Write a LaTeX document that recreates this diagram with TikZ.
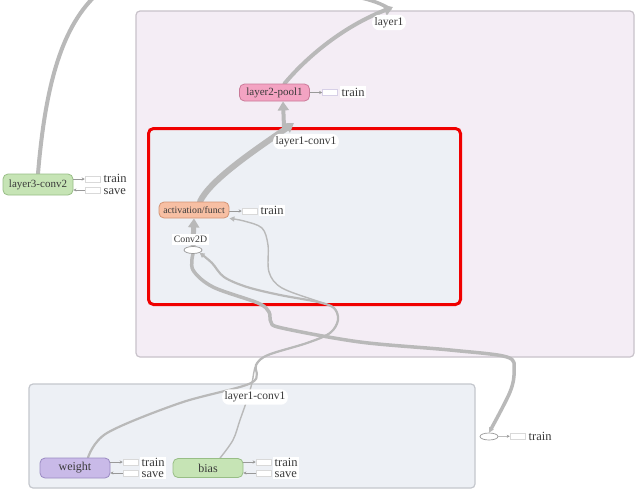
\documentclass[tikz,border=0pt]{standalone}
\usepackage{fontspec}
\setmainfont{Liberation Serif}
\usetikzlibrary{arrows.meta,shapes.geometric}
\definecolor{outerfill}{HTML}{F4EDF5}
\definecolor{outerline}{HTML}{C8C2CA}
\definecolor{innerfill}{HTML}{EDF0F5}
\definecolor{innerline}{HTML}{C4C7CD}
\definecolor{redline}{HTML}{F00000}
\definecolor{greenfill}{HTML}{C6E4B5}
\definecolor{greenline}{HTML}{98BE86}
\definecolor{pinkfill}{HTML}{F3A3C2}
\definecolor{pinkline}{HTML}{C97A98}
\definecolor{salmonfill}{HTML}{F7BFA3}
\definecolor{salmonline}{HTML}{D39475}
\definecolor{purplefill}{HTML}{C9BAE8}
\definecolor{purpleline}{HTML}{9A8AC2}
\definecolor{edgegray}{HTML}{B9B9B9}
\definecolor{txt}{HTML}{3A3A3A}
\pgfdeclarelayer{boxes}
\pgfdeclarelayer{edges}
\pgfsetlayers{boxes,edges,main}
\tikzset{
  grp/.style={rounded corners=4pt, inner sep=0pt},
  opnode/.style={draw, rounded corners=5pt, minimum width=70pt, inner sep=0pt, text=txt, line width=0.8pt},
  outrect/.style={draw=black!15, fill=white, minimum width=15pt, minimum height=6pt, inner sep=0pt, line width=0.5pt},
  lbl/.style={fill=white, inner sep=1.5pt, anchor=west, text=txt, font=\fontsize{12.5}{13}\selectfont},
  lbltwo/.style={fill=white, inner xsep=1.5pt, inner ysep=1pt, anchor=west, align=left, text=txt, font=\fontsize{12.5}{11.5}\selectfont},
  title/.style={fill=white, rounded corners=7pt, inner sep=2.5pt, text=txt, font=\fontsize{11.5}{13}\selectfont},
  smallarr/.style={draw=black!40, line width=0.5pt, -{Stealth[length=3pt,width=3pt]}},
  edgeline/.style={draw=edgegray, line cap=round, line join=round},
  bigtip/.style={-{Triangle[length=9pt,width=11pt]}},
  midtip/.style={-{Triangle[length=5pt,width=5pt]}},
}
\begin{document}
\begin{tikzpicture}[x=1pt,y=-1pt]
\useasboundingbox (0,0) rectangle (637,491);

% group boxes
\begin{pgfonlayer}{boxes}
\fill[white] (0,0) rectangle (637,491);
\node[grp, draw=outerline, fill=outerfill, line width=1.2pt, minimum width=498pt, minimum height=346pt] (layerone) at (385,184) {};
\node[grp, draw=redline, fill=innerfill, line width=3pt, rounded corners=5pt, minimum width=312pt, minimum height=176pt] (redbox) at (304.5,216.5) {};
\node[grp, draw=innerline, fill=innerfill, line width=1.2pt, minimum width=446pt, minimum height=104pt] (lowbox) at (252,436) {};
\end{pgfonlayer}

% op nodes
\node[opnode, draw=greenline, fill=greenfill, minimum height=21pt, font=\fontsize{11}{12}\selectfont] (l3) at (38,184.5) {layer3-conv2};
\node[opnode, draw=pinkline, fill=pinkfill, minimum height=17pt, font=\fontsize{11}{12}\selectfont] (pool) at (274.5,92.5) {layer2-pool1};
\node[opnode, draw=salmonline, fill=salmonfill, minimum height=16pt, font=\fontsize{9.8}{11}\selectfont] (act) at (194,210) {activation/funct};
\node[opnode, draw=purpleline, fill=purplefill, minimum height=20pt, font=\fontsize{12}{13}\selectfont] (weight) at (75,468) {weight};
\node[opnode, draw=greenline, fill=greenfill, minimum height=19pt, font=\fontsize{12}{13}\selectfont] (bias) at (208,468) {bias};
\node[ellipse, draw=black!40, fill=white, minimum width=18pt, minimum height=7pt, inner sep=0pt, line width=0.7pt] (conv) at (193,250) {};
\node[ellipse, draw=black!40, fill=white, minimum width=18pt, minimum height=7pt, inner sep=0pt, line width=0.7pt] (outell) at (489,436.5) {};

% output rects
\node[outrect] (l3t) at (92.5,179) {};
\node[outrect] (l3s) at (92.5,190) {};
\node[outrect, draw=purpleline!40] (poolt) at (330,92.5) {};
\node[outrect] (actt) at (249.5,211) {};
\node[outrect] (wt) at (130.5,462) {};
\node[outrect] (ws) at (130.5,473) {};
\node[outrect] (bt) at (263.5,462) {};
\node[outrect] (bs) at (263.5,473) {};
\node[outrect] (ot) at (517.5,436) {};

\draw[smallarr] (l3.east |- l3t) -- (l3t);
\draw[smallarr] (l3s) -- (l3.east |- l3s);
\draw[smallarr] (pool.east) -- (poolt);
\draw[smallarr] (act.east |- actt) -- (actt);
\draw[smallarr] (weight.east |- wt) -- (wt);
\draw[smallarr] (ws) -- (weight.east |- ws);
\draw[smallarr] (bias.east |- bt) -- (bt);
\draw[smallarr] (bs) -- (bias.east |- bs);
\draw[smallarr] (outell.east) -- (ot);

% text labels
\node[lbltwo] (l3tl) at (102,184.5) {train\\save};
\node[lbl] (pooltl) at (340,92) {train};
\node[lbl] (acttl) at (259,210.5) {train};
\node[lbltwo] (wtl) at (140,468) {train\\save};
\node[lbltwo] (btl) at (273,468) {train\\save};
\node[lbl] (otl) at (527,436) {train};
\node[fill=white, inner sep=2pt, text=txt, font=\fontsize{9.8}{11}\selectfont] (convl) at (190.5,239.5) {Conv2D};

% titles
\node[title] (t1) at (389,22.5) {layer1};
\node[title] (t2) at (306,141.5) {layer1-conv1};
\node[title] (t3) at (255,397) {layer1-conv1};

% free ends
\coordinate (top1) at (95,-4);
\coordinate (top2) at (393,7);
\coordinate (topin) at (357,-3);
\coordinate (cross) at (294,123);
\coordinate (crossb) at (284,127);

\begin{pgfonlayer}{edges}
\draw[edgeline, line width=4pt] (l3.north) .. controls (45,90) and (60,30) .. (top1);
\draw[edgeline, line width=4pt, bigtip] ([xshift=10pt]pool.north) .. controls (300,65) and (335,30) .. (top2);
\draw[edgeline, line width=3.5pt] (topin) .. controls (372,0) and (382,4) .. (390,9);
\draw[edgeline, line width=6pt, bigtip] ([xshift=6pt]act.north) .. controls (210,180) and (255,150) .. (cross);
\draw[edgeline, line width=4pt, bigtip] (crossb) -- ([xshift=8.5pt]pool.south);
\draw[edgeline, line width=5pt, bigtip] (conv.north) -- (act.south);
% weight -> Conv2D
\draw[edgeline, line width=2.2pt, midtip] plot[smooth, tension=0.55] coordinates {([xshift=13pt]weight.north) (107,433) (180,403) (251,383) (256,365) (268,355) (307,343) (330,333) (338,320) (334,308) (318,302) (280,295) (247,287) (224,277) (212,263) (conv.south east)};
% bias -> activation
\draw[edgeline, line width=1.4pt, midtip] plot[smooth, tension=0.55] coordinates {([xshift=12pt]bias.north) (233,440) (240,420) (247,400) (252,383) (256,365) (268,355) (307,343) (330,333) (338,320) (334,308) (320,302) (282,288) (269,272) (268,245) (262,228) (244,221) (act.south east)};
% Conv2D -> output
\draw[edgeline, line width=3.5pt, midtip] plot[smooth, tension=0.55] coordinates {(conv.south) (193,270) (213,287) (258,303) (269,312) (271,322) (282,328) (360,342) (450,350) (507,357) (514,370) (510,392) (outell.north)};
\end{pgfonlayer}
\end{tikzpicture}
\end{document}
